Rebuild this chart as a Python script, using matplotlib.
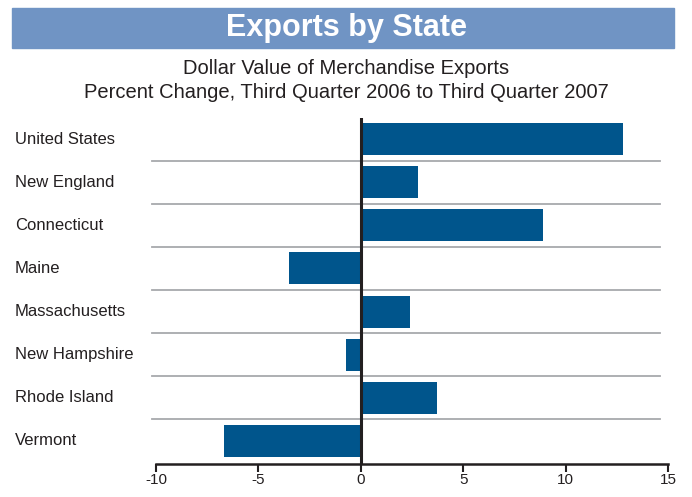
import matplotlib
matplotlib.use('Agg')
import matplotlib.pyplot as plt
from matplotlib.patches import Rectangle

plt.rcParams['font.family'] = ['Liberation Sans', 'DejaVu Sans']

states = ['United States', 'New England', 'Connecticut', 'Maine',
          'Massachusetts', 'New Hampshire', 'Rhode Island', 'Vermont']
pct_change = [12.8, 2.8, 8.9, -3.5, 2.4, -0.7, 3.7, -6.7]
xticks = [-10, -5, 0, 5, 10, 15]

BAR = '#00558C'
HEAD = '#7094C4'
INK = '#231F20'

fig = plt.figure(figsize=(6.92, 4.97), dpi=100)

# header band
fig.patches.append(Rectangle((12 / 692, 1 - 48 / 497), 662 / 692, 40 / 497,
                             transform=fig.transFigure, color=HEAD, zorder=0))
fig.text(0.5, 1 - 28 / 497, 'Exports by State', ha='center', va='center',
         color='white', fontsize=22, fontweight='bold')
fig.text(0.5, 1 - 68 / 497, 'Dollar Value of Merchandise Exports',
         ha='center', va='center', color=INK, fontsize=14.5)
fig.text(0.5, 1 - 93 / 497, 'Percent Change, Third Quarter 2006 to Third Quarter 2007',
         ha='center', va='center', color=INK, fontsize=14.5)

ax = fig.add_axes([156 / 692, 1 - 464 / 497, 512 / 692, (464 - 117.5) / 497])
ypos = list(range(len(states)))
ax.barh(ypos, pct_change, height=0.74, color=BAR, zorder=2)

# separators between categories
for y in ypos[:-1]:
    ax.plot([-10.2, 14.6], [y + 0.5, y + 0.5], color='#A7A9AC', lw=1.3,
            clip_on=False, zorder=1)

ax.axvline(0, color=INK, lw=2.2, zorder=3)

ax.set_xlim(-10, 15)
ax.set_ylim(7.535, -0.5)
ax.set_xticks(xticks)
ax.set_xticklabels([str(t) for t in xticks])
ax.set_yticks([])
for s in ['top', 'right', 'left']:
    ax.spines[s].set_visible(False)
ax.spines['bottom'].set_color(INK)
ax.spines['bottom'].set_linewidth(1.8)
ax.tick_params(axis='x', direction='out', length=6, width=1.5, color=INK,
               labelsize=11, labelcolor=INK, pad=0.5)

# category labels, left-aligned at the figure edge
for y, name in zip(ypos, states):
    disp = ax.transData.transform((0, y))
    fy = fig.transFigure.inverted().transform(disp)[1]
    fig.text(15 / 692, fy, name, ha='left', va='center', fontsize=12, color=INK)

fig.savefig('out.png', dpi=100)
